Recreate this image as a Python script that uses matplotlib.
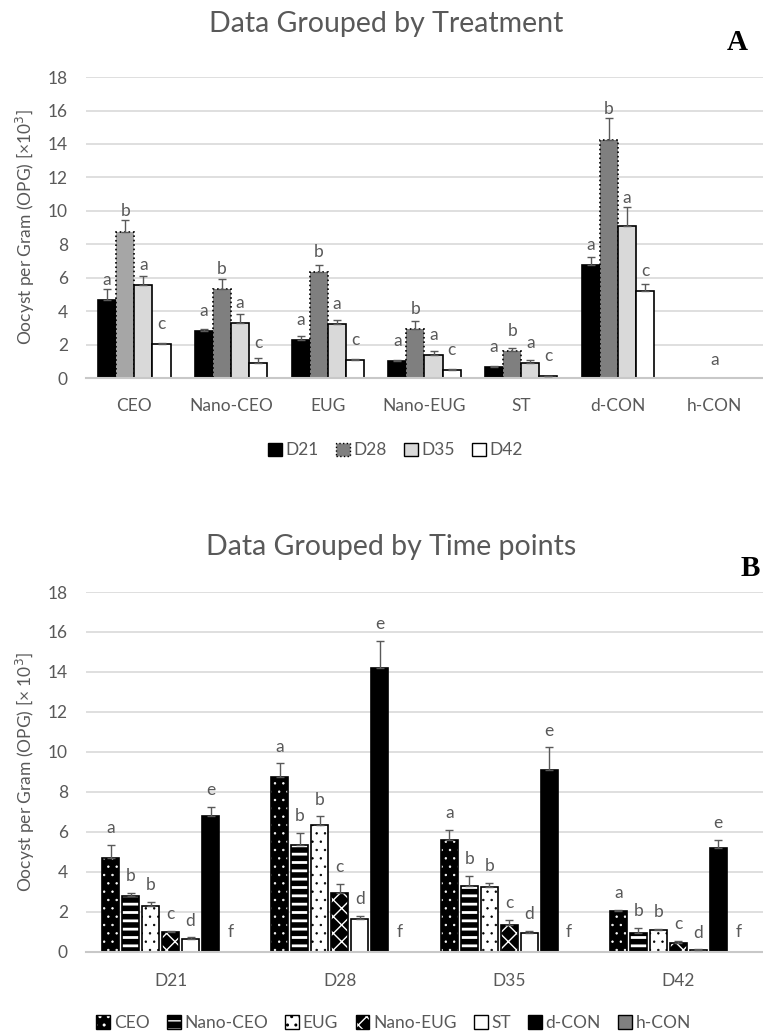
import matplotlib.pyplot as plt
import numpy as np
from matplotlib.patches import Patch

plt.rcParams['font.family'] = ['Lato', 'DejaVu Sans']
plt.rcParams['hatch.linewidth'] = 1.0

treatments = ['CEO', 'Nano-CEO', 'EUG', 'Nano-EUG', 'ST', 'd-CON', 'h-CON']
days = ['D21', 'D28', 'D35', 'D42']

# mean OPG (x10^3) per day, in treatment order
d21_mean = [4.68, 2.79, 2.29, 1.00, 0.64, 6.78, 0]
d28_mean = [8.73, 5.34, 6.34, 2.95, 1.63, 14.21, 0]
d35_mean = [5.58, 3.29, 3.25, 1.36, 0.92, 9.11, 0]
d42_mean = [2.03, 0.92, 1.10, 0.46, 0.10, 5.18, 0]
# standard errors (upper only)
d21_err = [0.66, 0.16, 0.20, 0.06, 0.08, 0.46, 0]
d28_err = [0.70, 0.60, 0.44, 0.44, 0.16, 1.36, 0]
d35_err = [0.52, 0.52, 0.20, 0.24, 0.14, 1.12, 0]
d42_err = [0.08, 0.28, 0.06, 0.10, 0.02, 0.42, 0]

# significance letters
letters_a = ['a', 'b', 'a', 'c']          # per day, panel A
letter_hcon_a = 'a'
letters_b = ['a', 'b', 'b', 'c', 'd', 'e', 'f']  # per treatment, panel B

means = np.array([d21_mean, d28_mean, d35_mean, d42_mean])
errs = np.array([d21_err, d28_err, d35_err, d42_err])

TXT = '#595959'
GRID = '#d9d9d9'

fig = plt.figure(figsize=(7.63, 10.33), dpi=100)


def style_axes(ax, ncat):
    ax.set_ylim(0, 18)
    ax.set_yticks(range(0, 19, 2))
    ax.set_xlim(-0.5, ncat - 0.5)
    ax.grid(axis='y', color=GRID, linewidth=1.2)
    ax.set_axisbelow(True)
    for s in ['top', 'right', 'left']:
        ax.spines[s].set_visible(False)
    ax.spines['bottom'].set_color('#c8c8c8')
    ax.spines['bottom'].set_linewidth(1.5)
    ax.tick_params(length=0, labelsize=12.5, colors=TXT)
    ax.tick_params(axis='y', pad=13)


def set_hlw(patches, lw):
    for p in patches:
        if hasattr(p, 'set_hatch_linewidth'):
            p.set_hatch_linewidth(lw)


# ---------------- Panel A ----------------
axA = fig.add_axes([0.1127, 0.634, 0.8873, 0.2914])
day_face = ['black', '#7f7f7f', '#d9d9d9', 'white']
day_ls = ['-', ':', '-', '-']
w = 0.1875
x = np.arange(len(treatments))
for j, d in enumerate(days):
    off = (j - 1.5) * w
    cols = [day_face[j]] * len(treatments)
    if j == 1:
        cols[0] = '#a6a6a6'
    for i in range(len(treatments)):
        v = means[j, i]
        e = errs[j, i]
        if v <= 0:
            continue
        axA.bar(x[i] + off, v, w, color=cols[i], edgecolor='black',
                linewidth=1.2, linestyle=day_ls[j], zorder=2)
        axA.errorbar(x[i] + off, v, yerr=[[0], [e]],
                     fmt='none', ecolor=TXT, elinewidth=1, capsize=3, zorder=3)
        ly = max(v + 1.2, v + e + 0.55)
        axA.text(x[i] + off, ly, letters_a[j], ha='center',
                 va='center', fontsize=12.5, color=TXT)
axA.text(x[6], 1.1, letter_hcon_a, ha='center', va='center', fontsize=12.5, color=TXT)
style_axes(axA, len(treatments))
axA.set_xticks(x)
axA.set_xticklabels(treatments)
axA.tick_params(axis='x', pad=14)

hA = [Patch(facecolor=day_face[j], edgecolor='black', linewidth=1,
            linestyle=day_ls[j]) for j in range(4)]
fig.legend(hA, days, loc='center', bbox_to_anchor=(0.518, 0.564), ncol=4,
           frameon=False, fontsize=12.5, labelcolor=TXT, handlelength=0.8,
           handleheight=0.8, handletextpad=0.2, columnspacing=1.0)

fig.text(0.506, 1 - 24 / 1033, 'Data Grouped by Treatment', ha='center',
         va='center', fontsize=20.5, color=TXT)
fig.text(737 / 763, 1 - 42 / 1033, 'A', ha='center', va='center', fontsize=21,
         fontweight='bold', family='Liberation Serif')
fig.text(25 / 763, 0.634 + 0.2914 / 2, 'Oocyst per Gram (OPG) [×10$^3$]',
         rotation=90, ha='center', va='center', fontsize=12.5, color=TXT)

# ---------------- Panel B ----------------
axB = fig.add_axes([0.1127, 0.0787, 0.8873, 0.3482])
tr_face = ['black', 'black', 'white', 'black', 'white', 'black', '#808080']
tr_hatch = ['..', '--', '..', 'xx', None, None, None]
tr_hcol = ['white', 'white', 'black', 'white', 'black', 'black', 'black']
tr_hlw = [0.5, 2.0, 0.5, 1.0, 1.0, 1.0, 1.0]
bw = 0.1
step = 0.118
xd = np.arange(len(days))
for i, t in enumerate(treatments):
    off = (i - 3) * step
    for j in range(len(days)):
        v = means[j, i]
        e = errs[j, i]
        if v > 0:
            b = axB.bar(xd[j] + off, v, bw, color=tr_face[i], edgecolor=tr_hcol[i],
                        hatch=tr_hatch[i], linewidth=0, zorder=2)
            set_hlw(b.patches, tr_hlw[i])
            axB.bar(xd[j] + off, v, bw, fill=False, edgecolor='black',
                    linewidth=1.2, zorder=2)
            axB.errorbar(xd[j] + off, v, yerr=[[0], [e]], fmt='none', ecolor=TXT,
                         elinewidth=1, capsize=3, zorder=3)
            axB.text(xd[j] + off, v + e + 0.83, letters_b[i], ha='center',
                     va='center', fontsize=12.5, color=TXT)
        else:
            axB.text(xd[j] + off, 1.0, letters_b[i], ha='center', va='center',
                     fontsize=12.5, color=TXT)
style_axes(axB, len(days))
axB.set_xticks(xd)
axB.set_xticklabels(days)
axB.tick_params(axis='x', pad=15)

hB = []
for i in range(len(treatments)):
    hp = Patch(facecolor=tr_face[i], edgecolor=tr_hcol[i], hatch=tr_hatch[i],
               linewidth=0)
    set_hlw([hp], tr_hlw[i])
    hB.append((hp, Patch(fill=False, edgecolor='black', linewidth=1)))
fig.legend(hB, treatments, loc='center', bbox_to_anchor=(0.516, 1 - 1023 / 1033),
           ncol=7, frameon=False, fontsize=12.5, labelcolor=TXT, handlelength=0.8,
           handleheight=0.8, handletextpad=0.2, columnspacing=1.0)

fig.text(0.512, 1 - 547 / 1033, 'Data Grouped by Time points', ha='center',
         va='center', fontsize=20.5, color=TXT)
fig.text(750 / 763, 1 - 568 / 1033, 'B', ha='center', va='center', fontsize=21,
         fontweight='bold', family='Liberation Serif')
fig.text(25 / 763, 0.0787 + 0.3482 / 2, 'Oocyst per Gram (OPG) [× 10$^3$]',
         rotation=90, ha='center', va='center', fontsize=12.5, color=TXT)

fig.savefig('out.png', dpi=100)
